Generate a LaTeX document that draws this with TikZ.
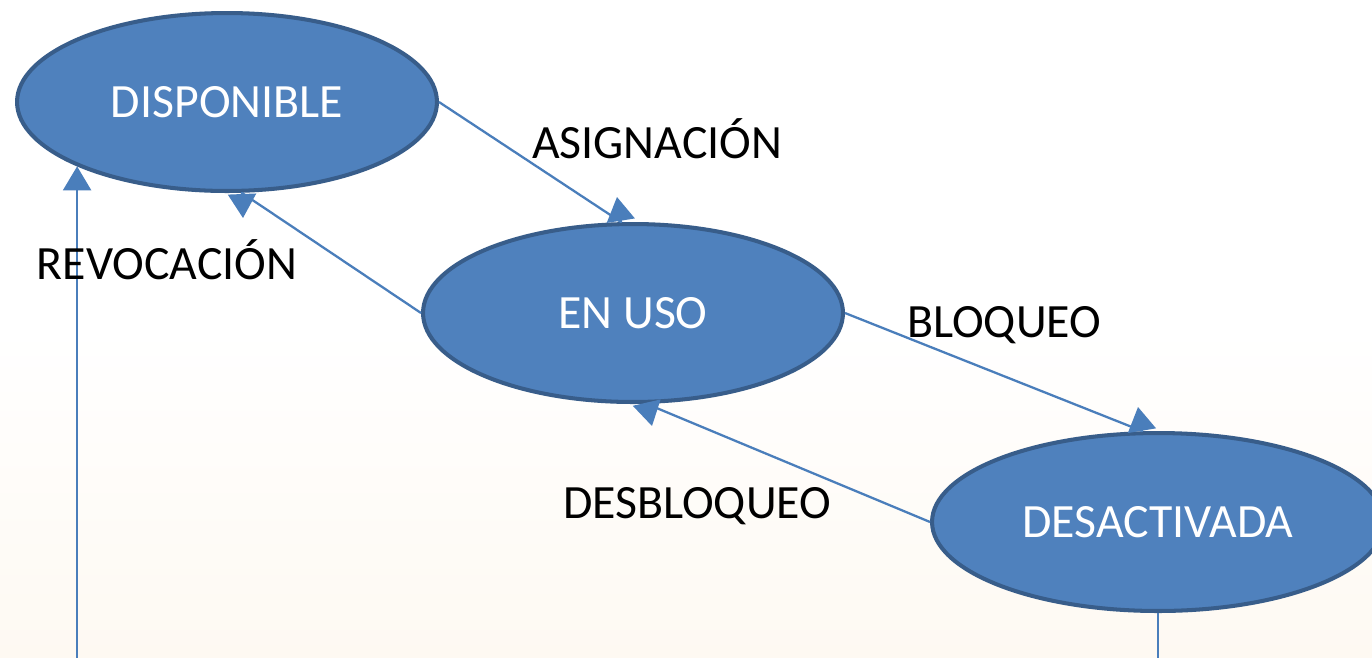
\documentclass[tikz,border=0pt]{standalone}
\usepackage{fontspec}
\setmainfont{Carlito}
\usepackage{tikz}
\usetikzlibrary{arrows.meta, positioning, calc, shapes.geometric}
\definecolor{azulestado}{RGB}{79,129,189}
\definecolor{bordeestado}{RGB}{56,93,138}
\definecolor{azullinea}{RGB}{74,126,187}
\definecolor{fondito}{RGB}{254,249,242}
\newcommand{\tamletra}{\fontsize{27.2}{31}\selectfont}
\tikzset{
  estado/.style={ellipse, draw=bordeestado, line width=2.3pt, fill=azulestado, text=white,
    minimum width=8.4cm, minimum height=3.56cm, inner sep=0pt, font=\tamletra},
  transicion/.style={draw=azullinea, line width=1.3pt, line join=round,
    -{Triangle[width=0.56cm,length=0.48cm]}},
  etiqueta/.style={anchor=base, font=\tamletra},
}

\begin{document}
\begin{tikzpicture}[x=0.02cm, y=-0.02cm]
	\useasboundingbox (0,0) rectangle (1372,657);
	\clip (0,0) rectangle (1372,657);
	\shade [top color=white, bottom color=fondito, middle color=white] (0,0) rectangle (1372,657);

	% estados
	\node [estado] (disp) at (227,102) {DISPONIBLE};
	\node [estado] (uso) at (633,313) {EN USO};
	\node [estado, minimum width=9.04cm] (desact) at (1158,522) {DESACTIVADA};

	% transiciones
	\draw [transicion] (disp.east) -- ([shift={(-12,0)}]uso.north) -- ++(-4,-25);
	\draw [transicion] (uso.west) -- ([shift={(15,0)}]disp.south) -- ++(1,25);
	\draw [transicion] (uso.east) -- ([shift={(-16,0)}]desact.north) -- ++(-4,-24);
	\draw [transicion] (desact.west) -- ([shift={(14,0)}]uso.south) -- ++(5,22);
	\draw [transicion] (desact.south) -- ++(0,100) -| (disp.south west);

	\node [etiqueta] (asig) at (657,158) {ASIGNACIÓN};
	\node [etiqueta] (revo) at (167,279) {REVOCACIÓN};
	\node [etiqueta] (bloq) at (1004,337) {BLOQUEO};
	\node [etiqueta] (desbloq) at (697,518) {DESBLOQUEO};
\end{tikzpicture}
\end{document}
